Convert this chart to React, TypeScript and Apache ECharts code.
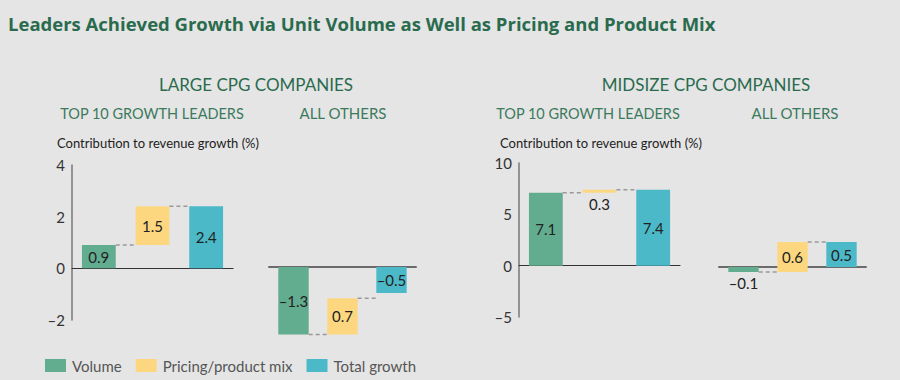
import React, { useEffect, useRef } from "react";
import * as echarts from "echarts";

const categories = ["Volume", "Pricing/product mix", "Total growth"];
const largeLeaders = [0.9, 1.5, 2.4];
const largeOthers = [-1.3, 0.7, -0.5];
const midLeaders = [7.1, 0.3, 7.4];
const midOthers = [-0.1, 0.6, 0.5];
const largeLeadersAxis = { min: -2, max: 4, interval: 2 };
const midLeadersAxis = { min: -5, max: 10, interval: 5 };

const COLORS = ["#62ac8f", "#fdd780", "#4cb9c8"];
const FONT = "Lato";

function fmt(v: number) {
  const s = Math.abs(v).toFixed(1);
  return v < 0 ? "\u2013" + s : s;
}
function fmtAxis(v: number) {
  return v < 0 ? "\u2013" + Math.abs(v) : String(v);
}

function waterfallSeries(values: number[], gridIdx: number, ratio: number) {
  const spans: [number, number][] = [
    [0, values[0]],
    [values[0], values[0] + values[1]],
    [0, values[2]],
  ];
  const levels = [null, values[0], values[0] + values[1]];
  return categories.map((name, i) => ({
    type: "custom",
    name,
    xAxisIndex: gridIdx,
    yAxisIndex: gridIdx,
    itemStyle: { color: COLORS[i] },
    clip: false,
    encode: { x: 0, y: [1, 2] },
    data: [[i, spans[i][0], spans[i][1]]],
    renderItem: (params: any, api: any) => {
      const c = api.value(0);
      const lo = api.value(1);
      const hi = api.value(2);
      const p1 = api.coord([c, lo]);
      const p2 = api.coord([c, hi]);
      const band = api.size([1, 0])[0];
      const w = band * ratio;
      const x = p1[0] - w / 2;
      const yTop = Math.min(p1[1], p2[1]);
      const yBot = Math.max(p1[1], p2[1]);
      const h = Math.max(yBot - yTop, 1);
      const children: any[] = [
        {
          type: "rect",
          shape: { x, y: yTop, width: w, height: h },
          style: { fill: COLORS[i] },
        },
      ];
      const small = h < 18;
      children.push({
        type: "text",
        style: {
          text: fmt(values[i]),
          x: p1[0],
          y: small ? yBot + 11 : (yTop + yBot) / 2,
          textAlign: "center",
          textVerticalAlign: "middle",
          fill: "#222",
          fontSize: 15,
          fontFamily: FONT,
        },
        z2: 10,
      });
      const lvl = levels[i];
      if (lvl !== null) {
        const prev = api.coord([c - 1, lvl]);
        children.push({
          type: "line",
          shape: { x1: prev[0] + w / 2, y1: prev[1], x2: x, y2: prev[1] },
          style: { stroke: "#999", lineWidth: 1.5, lineDash: [4, 3] },
        });
      }
      return { type: "group", children };
    },
  }));
}

export default function App() {
  const ref = useRef<HTMLDivElement>(null);
  useEffect(() => {
    if (!ref.current) return;
    const chart = echarts.init(ref.current, null, { renderer: "svg" });
    const leaderX = (idx: number) => ({
      type: "category",
      gridIndex: idx,
      data: categories,
      axisLine: { onZero: true, lineStyle: { color: "#333", width: 1.2 } },
      axisTick: { show: false },
      axisLabel: { show: false },
    });
    const otherX = (idx: number) => ({
      type: "category",
      gridIndex: idx,
      data: categories,
      axisLine: { onZero: true, lineStyle: { color: "#6b6b6b", width: 2 } },
      axisTick: { show: false },
      axisLabel: { show: false },
    });
    const leaderY = (idx: number, ax: any) => ({
      type: "value",
      gridIndex: idx,
      min: ax.min,
      max: ax.max,
      interval: ax.interval,
      axisLine: { show: true, lineStyle: { color: "#777", width: 1.5 } },
      axisTick: { show: false },
      splitLine: { show: false },
      axisLabel: {
        formatter: fmtAxis,
        color: "#333",
        fontSize: 15,
        fontFamily: FONT,
        margin: 7,
      },
    });
    const otherY = (idx: number) => ({
      type: "value",
      gridIndex: idx,
      min: -2,
      max: 2,
      axisLine: { show: false },
      axisTick: { show: false },
      splitLine: { show: false },
      axisLabel: { show: false },
    });
    const txt = (text: string, x: number, y: number, size: number, color: string, weight: any, align = "center", family = FONT) => ({
      type: "text",
      x,
      y,
      style: {
        text,
        fontSize: size,
        fontWeight: weight,
        fill: color,
        fontFamily: family,
        textAlign: align,
        textVerticalAlign: "middle",
      },
    });
    chart.setOption({
      animation: false,
      backgroundColor: "#e5e5e5",
      grid: [
        { left: 72, width: 161, top: 165, height: 155 },
        { left: 269, width: 147, top: 163, height: 208 },
        { left: 519, width: 161, top: 163, height: 154 },
        { left: 719, width: 147, top: 167, height: 200 },
      ],
      xAxis: [leaderX(0), otherX(1), leaderX(2), otherX(3)],
      yAxis: [leaderY(0, largeLeadersAxis), otherY(1), leaderY(2, midLeadersAxis), otherY(3)],
      legend: {
        data: categories,
        left: 45,
        top: 358,
        padding: 0,
        icon: "rect",
        itemWidth: 21,
        itemHeight: 13,
        itemGap: 14,
        selectedMode: false,
        textStyle: { color: "#555", fontSize: 15, fontFamily: FONT, padding: [0, 0, 0, 1] },
      },
      graphic: [
        txt("Leaders Achieved Growth via Unit Volume as Well as Pricing and Product Mix", 8, 23, 18.5, "#2a6b4e", "bold", "left", "Open Sans"),
        txt("LARGE CPG COMPANIES", 256, 84, 17, "#2a6b4e", "normal"),
        txt("TOP 10 GROWTH LEADERS", 152, 113, 14.5, "#3c7a5d", "normal"),
        txt("ALL OTHERS", 343, 113, 15, "#3c7a5d", "normal"),
        txt("MIDSIZE CPG COMPANIES", 706, 84, 17, "#2a6b4e", "normal"),
        txt("TOP 10 GROWTH LEADERS", 588, 113, 14.5, "#3c7a5d", "normal"),
        txt("ALL OTHERS", 795, 113, 15, "#3c7a5d", "normal"),
        txt("Contribution to revenue growth (%)", 57, 143, 13, "#222", "normal", "left"),
        txt("Contribution to revenue growth (%)", 500, 143, 13, "#222", "normal", "left"),
      ],
      series: [
        ...waterfallSeries(largeLeaders, 0, 0.63),
        ...waterfallSeries(largeOthers, 1, 0.62),
        ...waterfallSeries(midLeaders, 2, 0.63),
        ...waterfallSeries(midOthers, 3, 0.62),
      ],
    });
    return () => chart.dispose();
  }, []);
  return (
    <div
      ref={ref}
      style={{ position: "fixed", left: 0, top: 0, width: 900, height: 380 }}
    />
  );
}
